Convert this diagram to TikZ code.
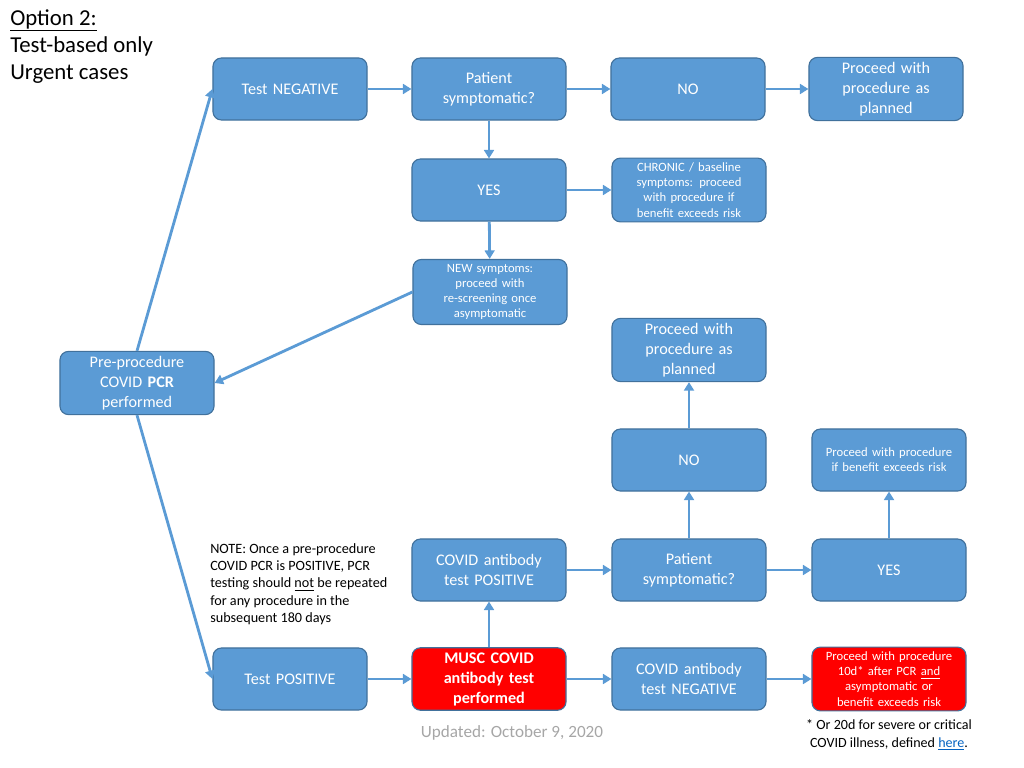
\documentclass[tikz,border=0pt]{standalone}
\usepackage{fontspec}
\setmainfont{Carlito}
\usetikzlibrary{arrows.meta}
\definecolor{boxblue}{HTML}{5B9BD5}
\definecolor{edgeblue}{HTML}{41719C}
\definecolor{linkblue}{HTML}{0563C1}
\definecolor{notegray}{HTML}{A6A6A6}
\tikzset{
  box/.style={draw=edgeblue, line width=0.8pt, fill=boxblue, rounded corners=6pt,
    minimum width=3.85cm, minimum height=1.55cm, text width=3.6cm, align=center,
    text=white, font=\fontsize{11.5}{14.2}\selectfont},
  smallbox/.style={box, font=\fontsize{9}{10.8}\selectfont},
  redbox/.style={box, fill=red},
  flow/.style={-{Triangle[width=7pt,length=6pt]}, draw=boxblue, line width=2pt},
}
\begin{document}
\begin{tikzpicture}[x=0.025cm, y=-0.025cm]
    \useasboundingbox (0,0) rectangle (1024,768);

    \node[anchor=north west, align=left, inner sep=0pt, font=\fontsize{16.2}{19.4}\selectfont] at (10,9) (title){\underline{Option 2:}\\Test-based only\\Urgent cases};

    % pcr and negative branch
    \node[box] at (137,383) (pcr){Pre-procedure\\COVID \textbf{PCR}\\performed};
    \node[box] at (290,89) (neg){Test NEGATIVE};
    \node[box] at (489,89) (sym1){Patient\\symptomatic?};
    \node[box] at (688,89) (no1){NO};
    \node[box] at (886,89) (plan1){Proceed with\\procedure as\\planned};
    \node[box] at (489,190) (yes1){YES};
    \node[smallbox] at (689,190) (chronic){CHRONIC / baseline\\symptoms: proceed\\with procedure if\\benefit exceeds risk};
    \node[smallbox] at (490,292) (new){NEW symptoms:\\proceed with\\re-screening once\\asymptomatic};

    % positive branch
    \node[box] at (290,679) (pos){Test POSITIVE};
    \node[redbox, font=\fontsize{11.5}{14.2}\selectfont\bfseries] at (489,679) (musc){MUSC COVID\\antibody test\\performed};
    \node[box] at (489,570) (abpos){COVID antibody\\test POSITIVE};
    \node[box] at (689,679) (abneg){COVID antibody\\test NEGATIVE};
    \node[redbox, font=\fontsize{9}{10.8}\selectfont] at (889,679) (wait){Proceed with procedure\\10d* after PCR \underline{and}\\asymptomatic or\\benefit exceeds risk};
    \node[box] at (689,570) (sym2){Patient\\symptomatic?};
    \node[box] at (689,460) (no2){NO};
    \node[box] at (689,350) (plan2){Proceed with\\procedure as\\planned};
    \node[box] at (889,570) (yes2){YES};
    \node[smallbox] at (889,460) (risk){Proceed with procedure\\if benefit exceeds risk};

    \draw[flow] (pcr.north) -- (neg.west);
    \draw[flow] (neg) -- (sym1);
    \draw[flow] (sym1) -- (no1);
    \draw[flow] (no1) -- (plan1);
    \draw[flow] (sym1) -- (yes1);
    \draw[flow] (yes1) -- (chronic);
    \draw[flow] (yes1) -- (new);
    \draw[flow] (new.west) -- (pcr.east);

    \draw[flow] (pcr.south) -- (pos.west);
    \draw[flow] (pos) -- (musc);
    \draw[flow] (musc) -- (abpos);
    \draw[flow] (musc) -- (abneg);
    \draw[flow] (abneg) -- (wait);
    \draw[flow] (abpos) -- (sym2);
    \draw[flow] (sym2) -- (no2);
    \draw[flow] (no2) -- (plan2);
    \draw[flow] (sym2) -- (yes2);
    \draw[flow] (yes2) -- (risk);

    \node[anchor=west, align=left, inner sep=0pt, font=\fontsize{10.1}{12.3}\selectfont] at (210,584) (note){NOTE: Once a pre-procedure\\COVID PCR is POSITIVE, PCR\\testing should \underline{not} be repeated\\for any procedure in the\\subsequent 180 days};
    \node[text=notegray, font=\fontsize{12.2}{14}\selectfont] at (512,733) (updated){Updated: October 9, 2020};
    \node[align=center, font=\fontsize{10}{12.5}\selectfont] at (889,735) (star){* Or 20d for severe or critical\\COVID illness, defined \textcolor{linkblue}{\underline{here}}.};
\end{tikzpicture}
\end{document}
